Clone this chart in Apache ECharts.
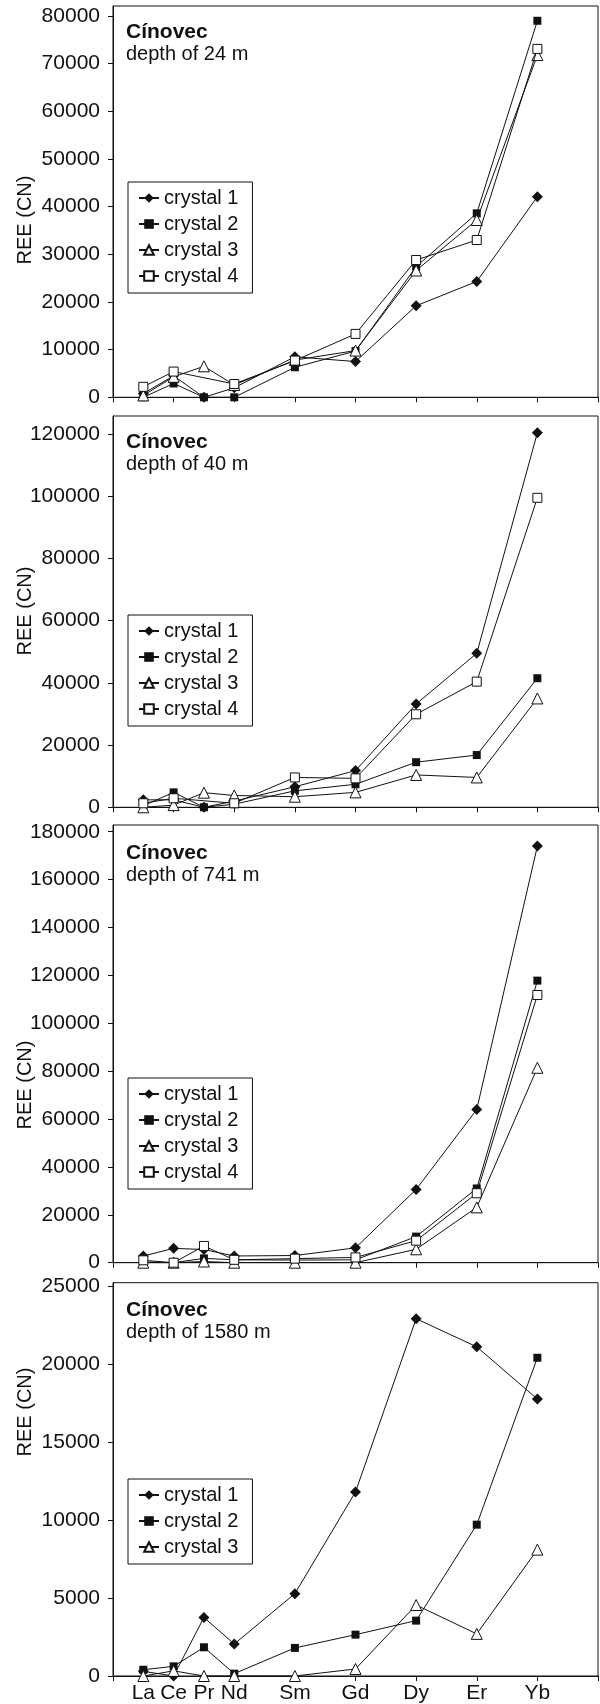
<!DOCTYPE html>
<html>
<head>
<meta charset="utf-8">
<script src="https://cdn.jsdelivr.net/npm/echarts@6/dist/echarts.min.js"></script>
<style>
    html, body { margin: 0; padding: 0; background: #fff; }
    #chart1 { width: 600px; height: 1704px; }
</style>
</head>
<body>
<div id="chart1"></div>
<script>
// categories (REE) and their place on the x axis
var elements = ['La', 'Ce', 'Pr', 'Nd', 'Sm', 'Gd', 'Dy', 'Er', 'Yb']
var elementPos = [0.5, 1, 1.5, 2, 3, 4, 5, 6, 7]
var xTicks = [0, 1, 2, 3, 4, 5, 6, 7, 8]

var crystals = ['crystal 1', 'crystal 2', 'crystal 3', 'crystal 4']
var depths = ['depth of 24 m', 'depth of 40 m', 'depth of 741 m', 'depth of 1580 m']

// y tick labels
var yTicks24 = [0, 10000, 20000, 30000, 40000, 50000, 60000, 70000, 80000]
var yTicks40 = [0, 20000, 40000, 60000, 80000, 100000, 120000]
var yTicks741 = [0, 20000, 40000, 60000, 80000, 100000, 120000, 140000, 160000, 180000]
var yTicks1580 = [0, 5000, 10000, 15000, 20000, 25000]

// depth 24 m
var d24c1 = [800, 4500, 0, 2000, 8500, 7500, 19200, 24300, 42100]
var d24c2 = [0, 2900, 0, 0, 6300, 9700, 27400, 38600, 79000]
var d24c3 = [400, 4300, 6500, 2600, 7800, 9800, 26600, 37200, 71800]
var d24c4 = [2200, 5400, null, 2800, 7700, 13300, 28800, 33000, 73100]
// depth 40 m
var d40c1 = [2400, 2400, 0, 2000, 6600, 11800, 33200, 49500, 120400]
var d40c2 = [500, 4800, 0, 1000, 5300, 7400, 14500, 16800, 41500]
var d40c3 = [0, 700, 4700, 3800, 3400, 4800, 10400, 9600, 35000]
var d40c4 = [1300, 2900, null, 1300, 9600, 9300, 29900, 40400, 99500]
// depth 741 m
var d741c1 = [2800, 6000, 5500, 2800, 3000, 6200, 30600, 64000, 174000]
var d741c2 = [300, 0, 1800, 1200, 1100, 1200, 10900, 31000, 117800]
var d741c3 = [0, 0, 500, 0, 0, 0, 5600, 23100, 81400]
var d741c4 = [1000, 0, 7000, 1200, 1700, 2200, 9200, 29000, 111800]
// depth 1580 m
var d1580c1 = [300, 0, 3750, 2050, 5280, 11800, 22900, 21100, 17750]
var d1580c2 = [400, 620, 1840, 150, 1800, 2650, 3550, 9700, 20400]
var d1580c3 = [0, 330, 0, 0, 0, 450, 4550, 2700, 8100]

var FONT = '"Liberation Sans", Arial, sans-serif'
var INK = '#111'

var panels = [
    { top: 6, bottom: 397.3, max: 82100, ticks: yTicks24, data: [d24c1, d24c2, d24c3, d24c4], nameY: 220, titleY: 32, legendTop: 182 },
    { top: 416, bottom: 807.3, max: 125800, ticks: yTicks40, data: [d40c1, d40c2, d40c3, d40c4], nameY: 611, titleY: 442, legendTop: 615 },
    { top: 825, bottom: 1262.7, max: 182800, ticks: yTicks741, data: [d741c1, d741c2, d741c3, d741c4], nameY: 1085, titleY: 853, legendTop: 1078 },
    { top: 1282.7, bottom: 1679, max: 25210, ticks: yTicks1580, data: [d1580c1, d1580c2, d1580c3], nameY: 1412, titleY: 1310, legendTop: 1479 }
]

var markers = [
    { symbol: 'diamond', size: 11, fill: INK },
    { symbol: 'rect', size: 8, fill: INK },
    { symbol: 'triangle', size: 11, fill: '#fff' },
    { symbol: 'rect', size: 9, fill: '#fff' }
]

$init()

function $init () {
    var myChart = echarts.init(document.getElementById('chart1'), null, { renderer: 'canvas' })
    var grid = [], xAxis = [], yAxis = [], series = [], legend = [], graphic = []

    panels.forEach(function (p, i) {
        var last = i === panels.length - 1
        grid.push({
            left: 113,
            width: 485,
            top: p.top,
            height: p.bottom - p.top,
            show: true,
            borderColor: INK,
            borderWidth: 1,
            backgroundColor: 'transparent'
        })
        xAxis.push({
            type: 'value',
            gridIndex: i,
            min: 0,
            max: 8,
            interval: 1,
            axisLine: { show: true, onZero: false, lineStyle: { color: INK, width: 1 } },
            axisTick: { show: true, length: 5, customValues: xTicks, lineStyle: { color: INK } },
            axisLabel: {
                show: last,
                customValues: elementPos,
                margin: 7,
                fontSize: 21,
                fontFamily: FONT,
                color: INK,
                formatter: function (v) {
                    var k = elementPos.indexOf(v)
                    return k >= 0 ? elements[k] : ''
                }
            },
            splitLine: { show: false }
        })
        yAxis.push({
            type: 'value',
            gridIndex: i,
            min: 0,
            max: p.max,
            interval: p.ticks[1],
            axisLine: { show: true, lineStyle: { color: INK, width: 1 } },
            axisTick: { show: true, length: 5, customValues: p.ticks, lineStyle: { color: INK } },
            axisLabel: {
                customValues: p.ticks,
                margin: 13,
                fontSize: 21,
                fontFamily: FONT,
                color: INK,
                formatter: function (v) { return String(v) }
            },
            splitLine: { show: false }
        })

        var names = []
        p.data.forEach(function (vals, s) {
            var m = markers[s]
            names.push(crystals[s])
            series.push({
                name: crystals[s],
                type: 'line',
                xAxisIndex: i,
                yAxisIndex: i,
                data: vals.map(function (v, k) { return [elementPos[k], v] }),
                connectNulls: true,
                symbol: m.symbol,
                symbolSize: m.size,
                showAllSymbol: true,
                lineStyle: { color: INK, width: 1 },
                itemStyle: { color: m.fill, borderColor: INK, borderWidth: m.fill === '#fff' ? 1 : 0 },
                emphasis: { disabled: true },
                z: 2 + s
            })
        })

        legend.push({
            data: names,
            orient: 'vertical',
            left: 128,
            top: p.legendTop,
            padding: [6, 14, 7, 10],
            itemGap: 6,
            itemWidth: 20,
            itemHeight: 12,
            borderColor: INK,
            borderWidth: 1,
            backgroundColor: '#fff',
            selectedMode: false,
            textStyle: { fontSize: 20, lineHeight: 20, fontFamily: FONT, color: INK }
        })

        graphic.push({
            type: 'text', x: 126, y: p.titleY,
            style: { text: 'Cínovec', font: 'bold 21px ' + FONT, fill: INK, verticalAlign: 'middle' }
        })
        graphic.push({
            type: 'text', x: 126, y: p.titleY + 22,
            style: { text: depths[i], font: '20px ' + FONT, fill: INK, verticalAlign: 'middle' }
        })
        graphic.push({
            type: 'text', x: 25, y: p.nameY, rotation: Math.PI / 2,
            style: { text: 'REE (CN)', font: '20px ' + FONT, fill: INK, align: 'center', verticalAlign: 'middle' }
        })
    })

    var option = {
        animation: false,
        backgroundColor: '#fff',
        grid: grid,
        xAxis: xAxis,
        yAxis: yAxis,
        legend: legend,
        graphic: graphic,
        series: series
    }
    myChart.setOption(option)
}
</script>
</body>
</html>
